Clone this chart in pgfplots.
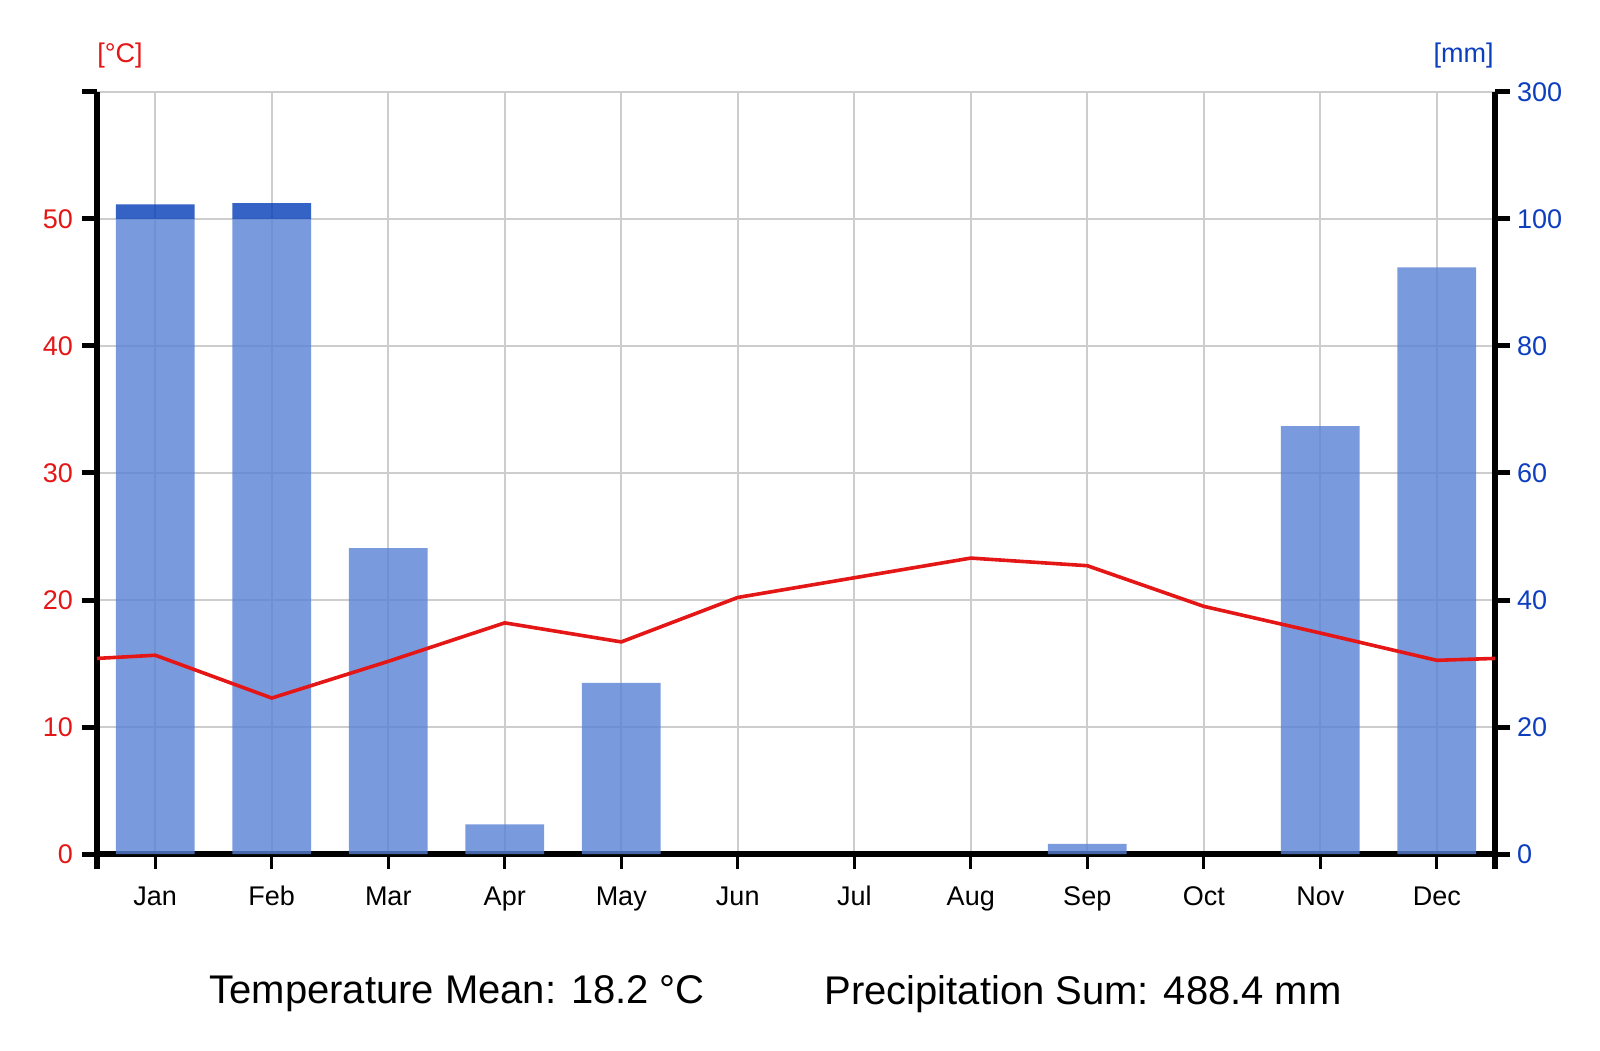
\documentclass[border=0pt]{standalone}
\usepackage{fontspec}
\setmainfont{Liberation Sans}
\usepackage{pgfplots}
\pgfplotsset{compat=1.18}
\definecolor{tred}{RGB}{228,22,22}
\definecolor{pblue}{RGB}{12,62,190}
\definecolor{barlight}{RGB}{89,129,214}
\definecolor{bardark}{RGB}{1,60,183}
\definecolor{gridgray}{RGB}{205,205,205}
\begin{document}
\begin{tikzpicture}
\pgfplotsset{
  common/.style={
    at={(48.5pt,98pt)}, anchor=south west, scale only axis,
    width=699pt, height=381pt,
    xmin=-0.5, xmax=11.5, ymin=0, ymax=60,
    /pgf/number format/assume math mode=true,
    tick label style={font=\fontsize{13.5}{16}\selectfont},
    ytick={0,10,...,60},
    tick align=outside,
    major tick length=7.5pt,
    clip=false,
    axis line style={line width=2.8pt, -},
    ytick style={line width=2.5pt, black},
  }
}
\begin{axis}[common,
  axis x line*=bottom, axis y line*=left,
  xtick={0,...,11},
  xticklabels={Jan,Feb,Mar,Apr,May,Jun,Jul,Aug,Sep,Oct,Nov,Dec},
  xticklabel style={text height=9.7pt, text depth=3pt, yshift=-5pt},
  xtick style={line width=1.5pt, black},
  extra x ticks={-0.5,11.5}, extra x tick labels={},
  extra x tick style={grid=none, xtick style={line width=2.8pt, black}},
  yticklabels={0,10,20,30,40,50,{}},
  yticklabel style={text=tred, xshift=-1pt},
  grid=major,
  major grid style={gridgray, line width=1.1pt},
  ybar stacked, bar width=0.675,
]
\addplot[fill=barlight, fill opacity=0.8, draw=none] coordinates {
(0,50) (1,50) (2,24.08) (3,2.33) (4,13.48) (5,0) (6,0) (7,0) (8,0.8) (9,0) (10,33.7) (11,46.2)};
\addplot[fill=bardark, fill opacity=0.8, draw=none] coordinates {
(0,1.15) (1,1.25) (2,0) (3,0) (4,0) (5,0) (6,0) (7,0) (8,0) (9,0) (10,0) (11,0)};
\end{axis}
\begin{axis}[common,
  axis x line=none, axis y line*=right,
  xtick=\empty,
  yticklabels={0,20,40,60,80,100,300},
  yticklabel style={text=pblue},
]
\addplot[tred, line width=1.8pt, mark=none] coordinates {
(-0.5,15.4) (0,15.65) (1,12.28) (2,15.17) (3,18.2) (4,16.7) (5,20.2) (6,21.75) (7,23.3) (8,22.7) (9,19.5) (10,17.4) (11,15.25) (11.5,15.4)};
\end{axis}
\node[anchor=west, inner sep=0, text=tred, font=\fontsize{13.5}{16}\selectfont] at (48.5pt,497pt) {[°C]};
\node[anchor=east, inner sep=0, text=pblue, font=\fontsize{13.5}{16}\selectfont] at (747pt,497pt) {[mm]};
\node[anchor=west, inner sep=0, font=\fontsize{20}{24}\selectfont] at (104.5pt,28pt) {Temperature Mean: 18.2 °C};
\node[anchor=west, inner sep=0, font=\fontsize{20}{24}\selectfont] at (412pt,28pt) {Precipitation Sum: 488.4 mm};
\pgfresetboundingbox
\path[use as bounding box] (0,0) rectangle (800pt,525pt);
\end{tikzpicture}
\end{document}
